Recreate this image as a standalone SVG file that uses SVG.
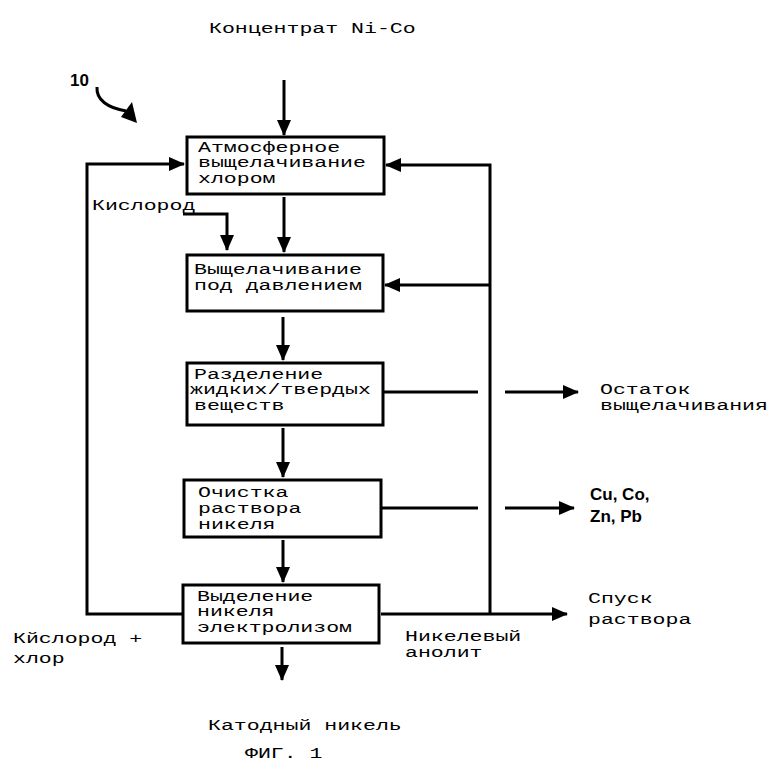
<svg xmlns="http://www.w3.org/2000/svg" width="780" height="775" viewBox="0 0 780 775">
<defs>
<style>
.box{fill:#fff;stroke:#000;stroke-width:3}
.ln{fill:none;stroke:#000;stroke-width:3}
.t{font-family:"Liberation Mono","Courier New",monospace;font-size:15.5px;fill:#000}
.s{font-family:"Liberation Sans",Arial,sans-serif;font-size:17px;font-weight:bold;fill:#000}
</style>
<marker id="ah" markerWidth="16" markerHeight="14" refX="15" refY="7" orient="auto" markerUnits="userSpaceOnUse">
<path d="M0,0 L16,7 L0,14 Z" fill="#000"/>
</marker>
</defs>
<rect width="780" height="775" fill="#fff"/>
<g id="connectors">
<line class="ln" x1="284" y1="80" x2="284" y2="135" marker-end="url(#ah)"/>
<line class="ln" x1="284" y1="197" x2="284" y2="252" marker-end="url(#ah)"/>
<polyline class="ln" points="183,214 227,214 227,250" marker-end="url(#ah)"/>
<line class="ln" x1="283" y1="317" x2="283" y2="360" marker-end="url(#ah)"/>
<line class="ln" x1="283" y1="428" x2="283" y2="477" marker-end="url(#ah)"/>
<line class="ln" x1="283" y1="540" x2="283" y2="582" marker-end="url(#ah)"/>
<line class="ln" x1="282" y1="647" x2="282" y2="680" marker-end="url(#ah)"/>
<polyline class="ln" points="183,614 87,614 87,164 184,164" marker-end="url(#ah)"/>
<line class="ln" x1="381" y1="614" x2="567" y2="614" marker-end="url(#ah)"/>
<polyline class="ln" points="490,614 490,165 386,165" marker-end="url(#ah)"/>
<line class="ln" x1="490" y1="285" x2="385" y2="285" marker-end="url(#ah)"/>
<line class="ln" x1="383" y1="392" x2="478" y2="392"/>
<line class="ln" x1="505" y1="392" x2="578" y2="392" marker-end="url(#ah)"/>
<line class="ln" x1="381" y1="508" x2="478" y2="508"/>
<line class="ln" x1="505" y1="508" x2="574" y2="508" marker-end="url(#ah)"/>
<path class="ln" d="M97,87 C96,100 108,108 126,111"/>
<path d="M137,123 L121,117 L132,102 Z" fill="#000"/>
</g>
<g id="n1"><rect class="box" x="187" y="137" width="197" height="57"/>
<text class="t" transform="translate(198,152) scale(1.39,1)">Атмосферное</text>
<text class="t" transform="translate(198,167) scale(1.39,1)">выщелачивание</text>
<text class="t" transform="translate(198,183) scale(1.39,1)">хлором</text></g>
<g id="n2"><rect class="box" x="187" y="255" width="196" height="56"/>
<text class="t" transform="translate(194,274) scale(1.39,1)">Выщелачивание</text>
<text class="t" transform="translate(194,290) scale(1.39,1)">под давлением</text></g>
<g id="n3"><rect class="box" x="187" y="363" width="196" height="62"/>
<text class="t" transform="translate(194,379) scale(1.39,1)">Разделение</text>
<text class="t" transform="translate(190,394) scale(1.39,1)">жидких/твердых</text>
<text class="t" transform="translate(194,410) scale(1.39,1)">веществ</text></g>
<g id="n4"><rect class="box" x="184" y="480" width="197" height="57"/>
<text class="t" transform="translate(198,497) scale(1.39,1)">Очистка</text>
<text class="t" transform="translate(198,513) scale(1.39,1)">раствора</text>
<text class="t" transform="translate(198,529) scale(1.39,1)">никеля</text></g>
<g id="n5"><rect class="box" x="183" y="585" width="196" height="58"/>
<text class="t" transform="translate(197,601) scale(1.39,1)">Выделение</text>
<text class="t" transform="translate(197,616) scale(1.39,1)">никеля</text>
<text class="t" transform="translate(197,632) scale(1.39,1)">электролизом</text></g>
<g id="labels">
<text class="t" transform="translate(209,33) scale(1.39,1)">Концентрат Ni-Co</text>
<text class="s" x="70" y="86" font-size="18">10</text>
<text class="t" transform="translate(92,210) scale(1.39,1)">Кислород</text>
<text class="t" transform="translate(600,394) scale(1.39,1)">Остаток</text>
<text class="t" transform="translate(600,410) scale(1.39,1)">выщелачивания</text>
<text class="s" x="590" y="500">Cu, Co,</text>
<text class="s" x="590" y="522">Zn, Pb</text>
<text class="t" transform="translate(588,603) scale(1.39,1)">Спуск</text>
<text class="t" transform="translate(588,624) scale(1.39,1)">раствора</text>
<text class="t" transform="translate(405,641) scale(1.39,1)">Никелевый</text>
<text class="t" transform="translate(405,657) scale(1.39,1)">анолит</text>
<text class="t" transform="translate(13,643) scale(1.39,1)">Кйслород +</text>
<text class="t" transform="translate(13,663) scale(1.39,1)">хлор</text>
<text class="t" transform="translate(208,730) scale(1.39,1)">Катодный никель</text>
<text class="t" transform="translate(245,758) scale(1.39,1)">ФИГ. 1</text>
</g>
</svg>
